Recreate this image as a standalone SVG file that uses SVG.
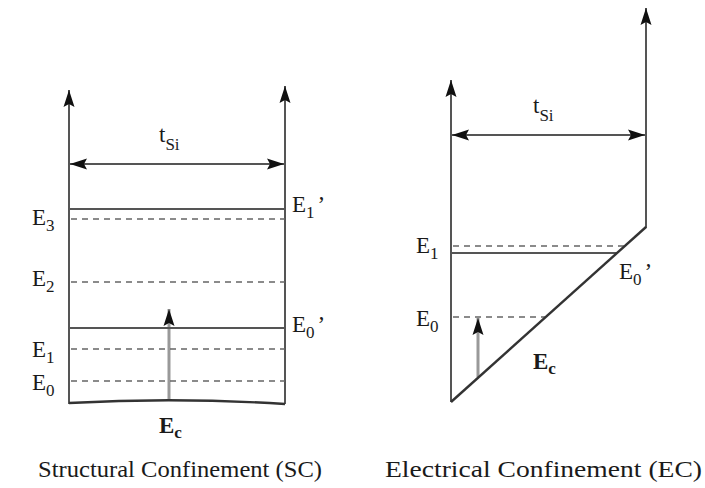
<svg xmlns="http://www.w3.org/2000/svg" width="705" height="488" viewBox="0 0 705 488">
<style>
.ax{stroke:#555;stroke-width:2;fill:none}
.lvl{stroke:#555;stroke-width:2.2;fill:none}
.dash{stroke:#666;stroke-width:1.6;stroke-dasharray:6 5;fill:none}
.ec{stroke:#333;stroke-width:2.4;fill:none}
.up{stroke:#999;stroke-width:3;fill:none}
text{font-family:'Liberation Serif','Times New Roman',Times,serif;fill:#1a1a1a}
.lab{font-size:23px}
.sub{font-size:17px}
.cap{font-size:23px}
</style>
<defs>
<marker id="ah" markerUnits="userSpaceOnUse" markerWidth="18" markerHeight="12" refX="17" refY="6" orient="auto-start-reverse">
<path d="M0,0.5 L17,6 L0,11.5 L3,6 z" fill="#111"/>
</marker>
</defs>
<rect width="705" height="488" fill="#fff"/>

<g id="sc-panel">
<g id="connectors-sc">
<line class="ax" x1="69" y1="404" x2="69" y2="90" marker-end="url(#ah)"/>
<line class="ax" x1="285" y1="404" x2="285" y2="86" marker-end="url(#ah)"/>
<line class="ax" x1="70" y1="164" x2="284" y2="164" marker-start="url(#ah)" marker-end="url(#ah)"/>
<line class="up" x1="169" y1="401" x2="169" y2="309" marker-end="url(#ah)"/>
</g>
<line class="lvl" x1="69" y1="209" x2="285" y2="209"/>
<line class="dash" x1="71" y1="219" x2="285" y2="219"/>
<line class="dash" x1="71" y1="282" x2="285" y2="282"/>
<line class="lvl" x1="69" y1="328" x2="285" y2="328"/>
<line class="dash" x1="71" y1="349" x2="285" y2="349"/>
<line class="dash" x1="71" y1="381" x2="285" y2="381"/>
<path class="ec" d="M69,403 Q177,397 285,404"/>
<text class="lab" x="159" y="142">t<tspan class="sub" dy="8">Si</tspan></text>
<text class="lab" x="32" y="225">E<tspan class="sub" dy="6">3</tspan></text>
<text class="lab" x="32" y="286">E<tspan class="sub" dy="6">2</tspan></text>
<text class="lab" x="32" y="357">E<tspan class="sub" dy="6">1</tspan></text>
<text class="lab" x="32" y="390">E<tspan class="sub" dy="6">0</tspan></text>
<text class="lab" x="292" y="212">E<tspan class="sub" dy="6">1</tspan><tspan dy="-6" dx="3">’</tspan></text>
<text class="lab" x="292" y="332">E<tspan class="sub" dy="6">0</tspan><tspan dy="-6" dx="3">’</tspan></text>
<text class="lab" x="159" y="433" font-weight="bold">E<tspan class="sub" dy="5">c</tspan></text>
<text class="cap" x="38" y="477" textLength="284" lengthAdjust="spacingAndGlyphs">Structural Confinement (SC)</text>
</g>

<g id="ec-panel">
<g id="connectors-ec">
<line class="ax" x1="451" y1="402" x2="451" y2="80" marker-end="url(#ah)"/>
<line class="ax" x1="646" y1="228" x2="646" y2="8" marker-end="url(#ah)"/>
<line class="ax" x1="452" y1="135" x2="645" y2="135" marker-start="url(#ah)" marker-end="url(#ah)"/>
<line class="up" x1="478" y1="377" x2="478" y2="318" marker-end="url(#ah)"/>
</g>
<line class="dash" x1="453" y1="246" x2="625" y2="246"/>
<line class="lvl" x1="451" y1="253" x2="617" y2="253"/>
<line class="dash" x1="453" y1="317" x2="545" y2="317"/>
<line class="ec" x1="451" y1="402" x2="646" y2="227"/>
<text class="lab" x="533" y="113">t<tspan class="sub" dy="8">Si</tspan></text>
<text class="lab" x="416" y="253">E<tspan class="sub" dy="6">1</tspan></text>
<text class="lab" x="416" y="326">E<tspan class="sub" dy="6">0</tspan></text>
<text class="lab" x="619" y="279">E<tspan class="sub" dy="6">0</tspan><tspan dy="-6" dx="3">’</tspan></text>
<text class="lab" x="533" y="369" font-weight="bold">E<tspan class="sub" dy="5">c</tspan></text>
<text class="cap" x="385" y="477" textLength="317" lengthAdjust="spacingAndGlyphs">Electrical Confinement (EC)</text>
</g>
</svg>
